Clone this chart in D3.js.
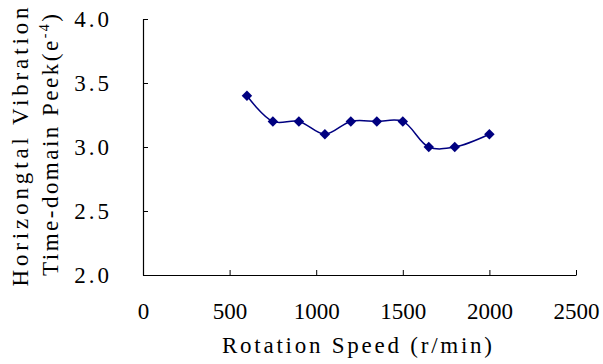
<!DOCTYPE html>
<html>
<head>
<meta charset="utf-8">
<script src="https://cdn.jsdelivr.net/npm/d3@7"></script>
<style>
  body { margin: 0; background: #fff; }
  text { font-family: "Liberation Serif", "DejaVu Serif", serif; fill: #000; }
</style>
</head>
<body>
<svg id="chart" width="603" height="364"></svg>
<script>
// data
const speeds = [600, 750, 900, 1050, 1200, 1350, 1500, 1650, 1800, 2000];
const peeks = [3.4, 3.2, 3.2, 3.1, 3.2, 3.2, 3.2, 3.0, 3.0, 3.1];
const xTicks = [0, 500, 1000, 1500, 2000, 2500];
const yTicks = [2.0, 2.5, 3.0, 3.5, 4.0];

const margin = {left: 143, right: 27, top: 19, bottom: 89};
const width = 603, height = 364;
const fs = 23;

const svg = d3.select("#chart");

const x = d3.scaleLinear().domain([0, 2500]).range([margin.left, width - margin.right]);
const y = d3.scaleLinear().domain([2, 4]).range([height - margin.bottom, margin.top]);

// x axis
const xAxis = svg.append("g")
    .attr("transform", `translate(0,${y(2)})`)
    .call(d3.axisBottom(x).tickValues(xTicks).tickSizeInner(-5).tickSizeOuter(0).tickPadding(28)
        .tickFormat(d3.format("d")));
xAxis.selectAll("text")
    .attr("font-size", fs)
    .style("font-family", '"Liberation Serif", serif');

// y axis
const yAxis = svg.append("g")
    .attr("transform", `translate(${x(0)},0)`)
    .call(d3.axisLeft(y).tickValues(yTicks).tickSizeInner(-5).tickSizeOuter(0).tickPadding(31)
        .tickFormat(d3.format(".1f")));
yAxis.selectAll("text")
    .attr("font-size", fs)
    .attr("letter-spacing", 3)
    .style("font-family", '"Liberation Serif", serif');

svg.selectAll(".domain").attr("stroke", "#000").attr("stroke-width", 1.2);
svg.selectAll(".tick line").attr("stroke", "#000");

// axis titles
svg.append("text")
    .attr("x", 222)
    .attr("y", 353)
    .attr("font-size", fs)
    .attr("textLength", 270)
    .attr("lengthAdjust", "spacing")
    .text("Rotation Speed (r/min)");

const yt = svg.append("g")
    .attr("transform", `translate(0,${(y(2) + y(4)) / 2}) rotate(-90)`);
yt.append("text")
    .attr("x", -139.5)
    .attr("y", 28)
    .attr("font-size", fs)
    .attr("textLength", 279)
    .attr("lengthAdjust", "spacing")
    .text("Horizongtal Vibration");
const t2 = yt.append("text")
    .attr("x", -129)
    .attr("y", 58)
    .attr("font-size", fs)
    .attr("textLength", 262)
    .attr("lengthAdjust", "spacing");
t2.append("tspan").text("Time-domain Peek(e");
t2.append("tspan").attr("dy", -9).attr("font-size", 14).text("-4");
t2.append("tspan").attr("dy", 9).text(")");

// series
const line = d3.line()
    .x((d, i) => x(speeds[i]))
    .y(d => y(d))
    .curve(d3.curveCatmullRom.alpha(0.5));

svg.append("path")
    .datum(peeks)
    .attr("d", line)
    .attr("fill", "none")
    .attr("stroke", "#000080")
    .attr("stroke-width", 1.5);

svg.append("g")
    .selectAll("path")
    .data(peeks)
    .join("path")
    .attr("transform", (d, i) => `translate(${x(speeds[i])},${y(d)})`)
    .attr("d", d3.symbol(d3.symbolDiamond2, 70))
    .attr("fill", "#000080");
</script>
</body>
</html>
